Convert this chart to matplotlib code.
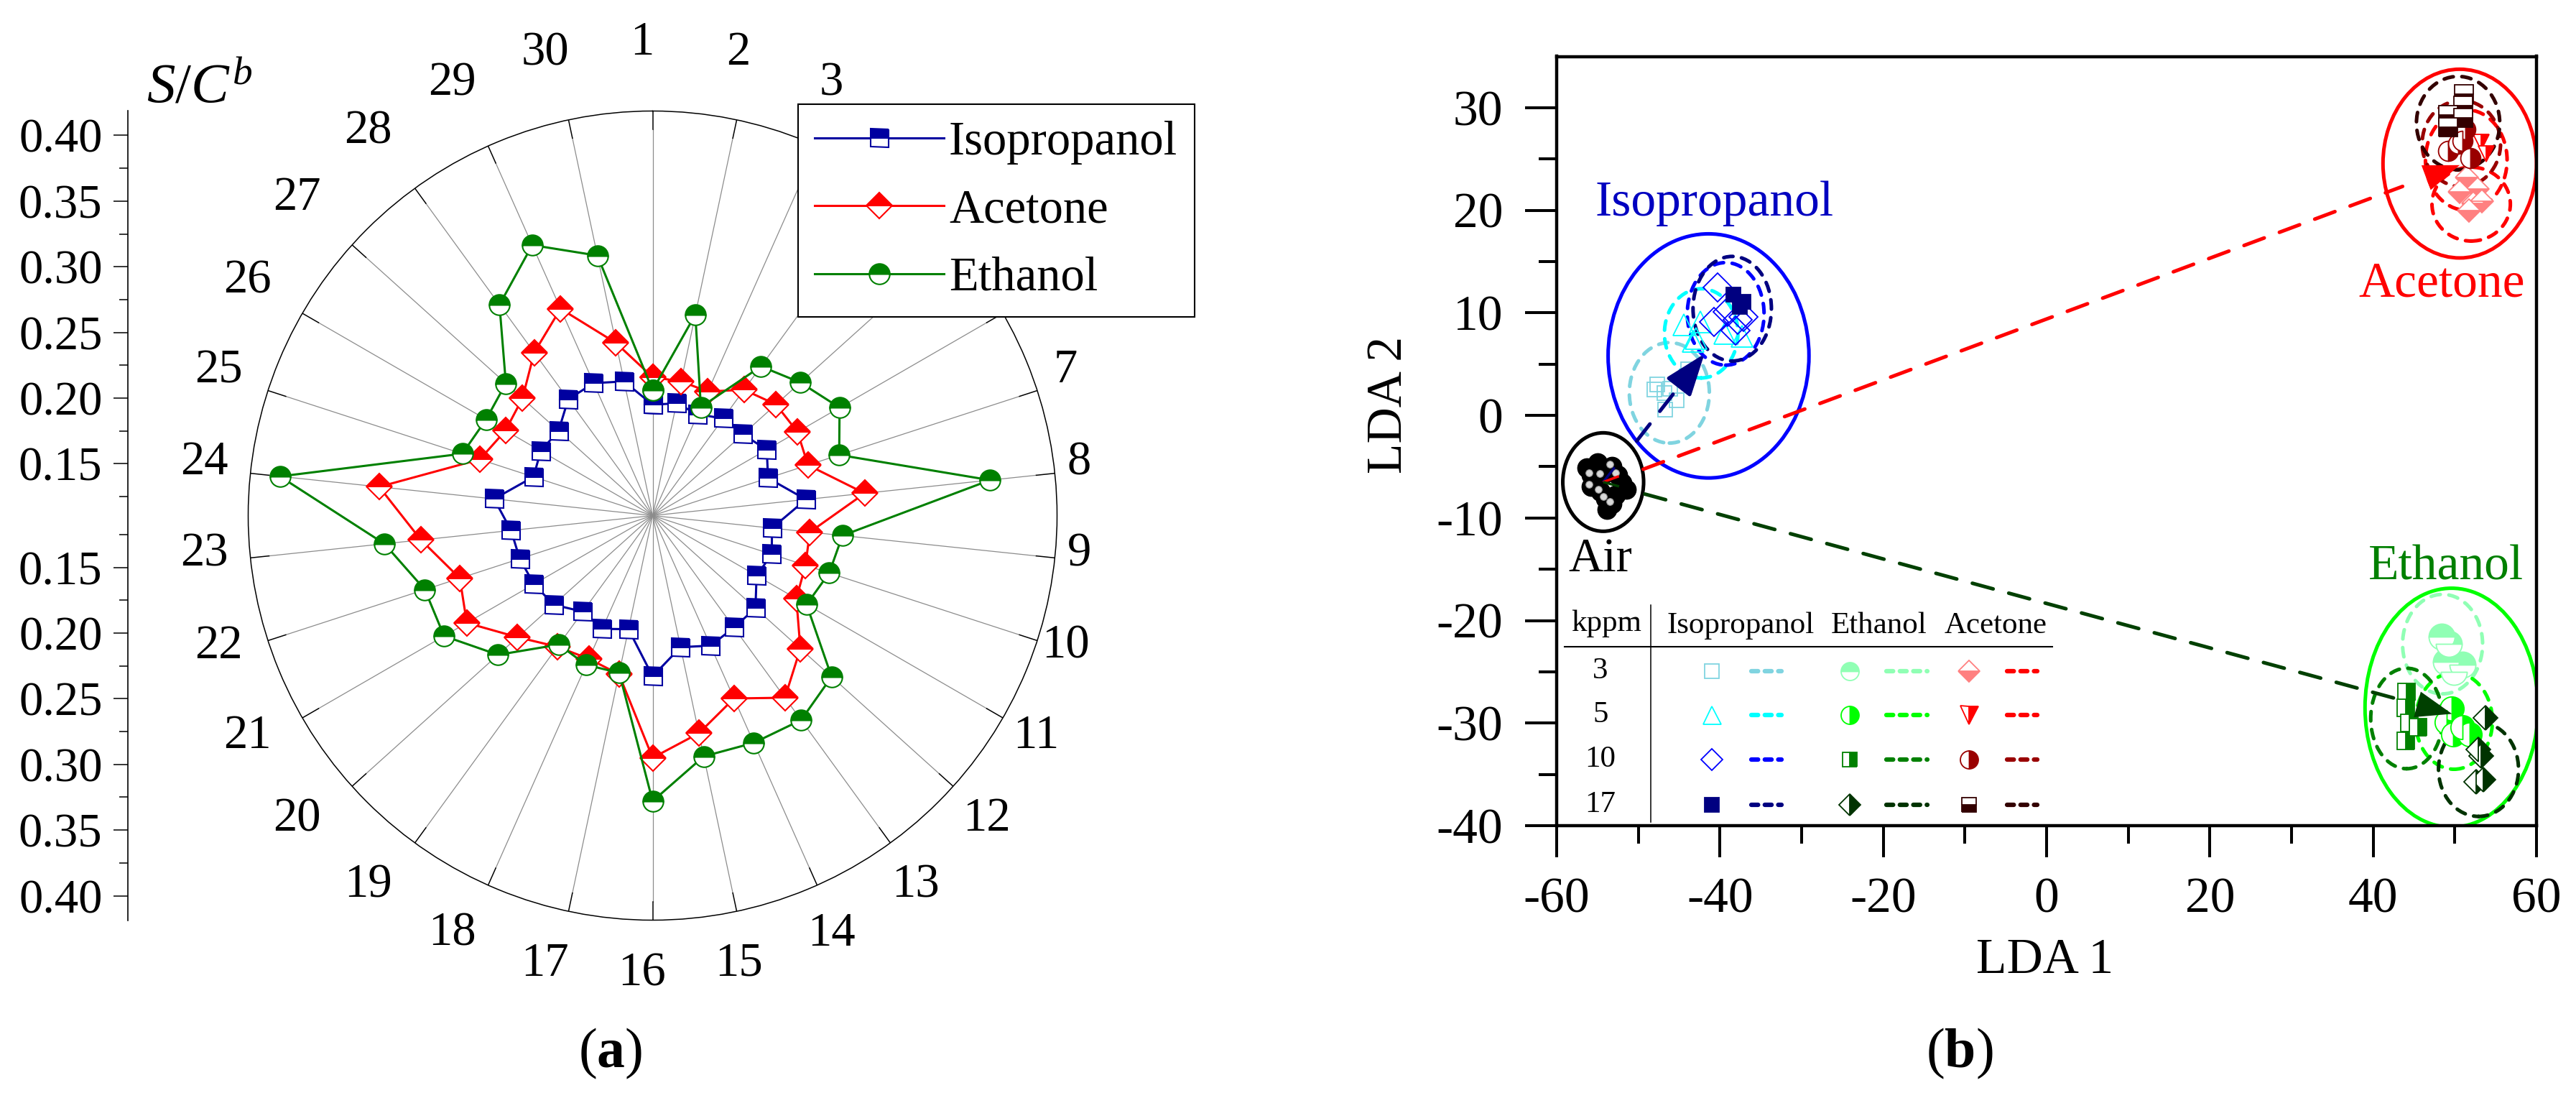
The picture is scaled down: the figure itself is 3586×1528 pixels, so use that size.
import numpy as np
import matplotlib.pyplot as plt
import matplotlib.transforms as mtransforms
from matplotlib.patches import Ellipse

plt.rcParams['font.family'] = ['Liberation Serif', 'DejaVu Serif']
plt.rcParams['mathtext.fontset'] = 'custom'
plt.rcParams['mathtext.rm'] = 'Liberation Serif'
plt.rcParams['mathtext.it'] = 'Liberation Serif:italic'
plt.rcParams['mathtext.bf'] = 'Liberation Serif:bold'
plt.rcParams['axes.unicode_minus'] = False

# ---------------- (a) radar data: S/C^b of the 30 sensors
sensors = np.arange(1, 31)
isopropanol = [0.195, 0.198, 0.195, 0.202, 0.203, 0.211, 0.203, 0.228, 0.202, 0.206,
               0.202, 0.216, 0.216, 0.219, 0.213, 0.233, 0.199, 0.205, 0.201, 0.212,
               0.215, 0.217, 0.219, 0.232, 0.206, 0.209, 0.207, 0.220, 0.221, 0.215]
acetone = [0.216, 0.215, 0.214, 0.229, 0.237, 0.238, 0.235, 0.273, 0.231, 0.233,
           0.237, 0.262, 0.282, 0.263, 0.280, 0.295, 0.234, 0.230, 0.234, 0.249,
           0.274, 0.265, 0.288, 0.320, 0.249, 0.240, 0.244, 0.264, 0.283, 0.245]
ethanol = [0.206, 0.267, 0.201, 0.251, 0.262, 0.275, 0.260, 0.369, 0.256, 0.252,
           0.246, 0.294, 0.303, 0.300, 0.298, 0.328, 0.233, 0.235, 0.232, 0.269,
           0.294, 0.293, 0.316, 0.396, 0.263, 0.257, 0.261, 0.309, 0.336, 0.313]
hidden_labels = [4, 5, 6]          # sit under the legend box in the original
r_ticks = [0.15, 0.20, 0.25, 0.30, 0.35, 0.40]
r_minor = [0.125, 0.175, 0.225, 0.275, 0.325, 0.375]
r_min, r_max = 0.1106, 0.4186

# ---------------- (b) LDA scores
air_x = [-55.8, -54.5, -55.8, -54.6, -52.5, -53.2, -53.2, -54.0, -56.3, -52.0,
         -51.5, -53.8, -55.0, -52.8]
air_y = [-5.8, -5.9, -6.9, -7.4, -5.8, -5.0, -8.6, -8.1, -5.1, -6.6,
         -7.2, -9.2, -4.6, -7.8]

iso3_x = [-48.0, -46.8, -46.1, -45.3, -46.7, -47.7, -43.9]
iso3_y = [2.5, 2.2, 2.6, 1.5, 0.6, 3.0, 4.5]
iso5_x = [-44.4, -42.4, -42.9, -39.4, -37.3, -43.3]
iso5_y = [8.8, 9.1, 7.5, 8.0, 7.7, 7.2]
iso10_x = [-40.3, -39.1, -40.7, -37.8, -38.1, -37.1]
iso10_y = [12.5, 10.1, 9.1, 9.3, 8.3, 9.6]
iso17_x = [-38.4, -37.1, -37.6]
iso17_y = [11.8, 11.1, 10.6]

eth3_x = [48.4, 49.3, 48.9, 50.9, 49.9]
eth3_y = [-21.6, -22.3, -24.0, -24.3, -25.0]
eth5_x = [49.6, 49.0, 49.8, 51.8, 50.9]
eth5_y = [-28.6, -29.9, -31.1, -31.1, -30.4]
eth10_x = [44.1, 44.0, 45.5, 44.0, 44.4]
eth10_y = [-27.0, -28.5, -30.4, -31.7, -30.0]
eth17_x = [53.75, 53.2, 53.5, 52.6, 52.9]
eth17_y = [-29.5, -33.2, -35.5, -35.7, -32.6]

ace3_x = [51.5, 52.8, 50.6, 52.25, 53.3, 51.7]
ace3_y = [23.2, 22.1, 21.8, 20.7, 20.9, 20.0]
ace5_x = [53.2, 53.8]
ace5_y = [26.6, 25.5]
ace10_x = [51.25, 49.2, 50.45, 51.9, 50.9]
ace10_y = [27.9, 25.8, 26.5, 25.1, 26.8]
ace17_x = [51.1, 51.0, 49.2, 49.2, 51.0]
ace17_y = [31.3, 30.2, 29.3, 28.1, 29.0]

# confidence ellipses (cx, cy, semi-x, semi-y)
air_ell = (-54.3, -6.5, 4.95, 4.8)
iso_ell = (-41.4, 5.8, 12.3, 11.9)
ace_ell = (50.6, 24.55, 9.4, 9.2)
eth_ell = (49.6, -28.5, 10.6, 11.65)
iso_sub = [(-46.2, 2.2, 4.9, 4.9), (-42.3, 8.0, 4.5, 4.35), (-39.3, 9.9, 4.7, 5.0), (-38.5, 10.4, 4.8, 5.1)]
eth_sub = [(48.5, -22.3, 4.9, 4.85), (49.9, -29.8, 4.7, 4.7), (44.1, -29.55, 4.4, 4.9), (52.9, -34.5, 4.9, 4.6)]
ace_sub = [(52.0, 20.6, 4.8, 3.6), (51.4, 24.9, 5.0, 4.9), (50.8, 26.5, 4.8, 4.2), (50.4, 28.5, 5.1, 4.55)]

# trajectories from air to each gas (start, end, colour)
arrows = [((-50.2, -2.5), (-41.9, 6.0), '#000080'),
          ((-49.4, -5.25), (50.6, 24.4), '#FF0000'),
          ((-49.2, -7.67), (49.65, -29.1), '#004000')]

kppm = ['3', '5', '10', '17']
ISO = ['#80D4E0', '#00FFFF', '#0000FF', '#000080']
ETH = ['#90FFB4', '#00FF00', '#008000', '#003300']
ACE = ['#FF8080', '#FF0000', '#990000', '#330000']
ACE_DASH = ['#FF0000', '#FF0000', '#990000', '#330000']

W, H = 3586, 1528
fig = plt.figure(figsize=(W / 100, H / 100), dpi=100)


def fx(px):
    return px / W


def fy(py):
    return 1 - py / H


# ======================= (a) radar =======================
cx, cy, rad = 908.5, 717.5, 563
axa = fig.add_axes([fx(cx - rad), fy(cy + rad), 2 * rad / W, 2 * rad / H], projection='polar')
axa.set_theta_zero_location('N')
axa.set_theta_direction(-1)
axa.set_ylim(r_min, r_max)
axa.grid(False)
axa.set_xticks([])
axa.set_yticks([])
axa.spines['polar'].set_linewidth(1.1)

px_per_r = rad / (r_max - r_min)
theta = np.deg2rad((sensors - 1) * 12.0)
tip = 26 / px_per_r
for t in theta:
    axa.plot([t, t], [r_min, r_max - tip], color='#8c8c8c', lw=0.9, zorder=1)
    axa.plot([t, t], [r_max - tip, r_max], color='black', lw=1.1, zorder=1)

# sensor numbers round the rim
lab_tr = mtransforms.offset_copy(axa.transData, fig=fig, x=-15, y=10, units='dots')
for s, t in zip(sensors, theta):
    if s in hidden_labels:
        continue
    c = abs(np.cos(t))
    dist = 612 + 36 * np.clip((c - 0.2) / 0.5, 0, 1)
    axa.text(t, r_min + dist / px_per_r, str(s), transform=lab_tr, ha='center',
             va='center', fontsize=48, clip_on=False)

series = [('Isopropanol', isopropanol, 's', '#0000A0', 18),
          ('Acetone', acetone, 'D', '#FF0000', 18),
          ('Ethanol', ethanol, 'o', '#008000', 20.5)]
handles = []
for name, vals, mk, col, ms in series:
    tt = np.append(theta, theta[0])
    vv = np.append(vals, vals[0])
    h, = axa.plot(tt, vv, color=col, lw=2.2, marker=mk, ms=ms, mfc=col,
                  mfcalt='white', fillstyle='top', mec=col, mew=1.5,
                  label=name, zorder=3, clip_on=False)
    handles.append(h)

# radial ruler on the left
axs = fig.add_axes([fx(178), fy(cy + rad), 1e-4, 2 * rad / H])
span = r_max - r_min
axs.set_ylim(-span, span)
axs.set_yticks([v - r_min for v in r_ticks] + [-(v - r_min) for v in r_ticks],
               [f'{v:.2f}' for v in r_ticks] * 2)
axs.set_yticks([v - r_min for v in r_minor] + [-(v - r_min) for v in r_minor], minor=True)
axs.set_xticks([])
for s in ['top', 'right', 'bottom']:
    axs.spines[s].set_visible(False)
axs.spines['left'].set_linewidth(1.2)
axs.tick_params(axis='y', which='major', length=14.5, width=1.1, pad=11, labelsize=48)
axs.tick_params(axis='y', which='minor', length=8.5, width=1.1)
axs.patch.set_visible(False)
fig.text(fx(204), fy(143), r'$S/C^b$', fontsize=57, ha='left', va='baseline')

leg = fig.legend(handles=handles, loc='upper left', bbox_to_anchor=(fx(1111), fy(145)),
                 fontsize=48, frameon=True, fancybox=False, edgecolor='black',
                 framealpha=1, borderaxespad=0, borderpad=0.35, handlelength=2.7,
                 handletextpad=0.1, labelspacing=0.5)
leg.get_frame().set_linewidth(1.5)

fig.text(fx(850), fy(1466), r'($\mathbf{a}$)', fontsize=56, ha='center', va='center')

# ======================= (b) LDA =======================
axb = fig.add_axes([fx(2167), fy(1149), 1364 / W, (1149 - 78.5) / H])
axb.set_xlim(-60, 60)
axb.set_ylim(-40, 35)
axb.set_xticks(np.arange(-60, 61, 20))
axb.set_xticks(np.arange(-50, 60, 20), minor=True)
axb.set_yticks(np.arange(-40, 31, 10))
axb.set_yticks(np.arange(-35, 30, 10), minor=True)
for sp in axb.spines.values():
    sp.set_linewidth(3.2)
axb.tick_params(which='major', direction='out', length=32, width=2.9, labelsize=50)
axb.tick_params(which='minor', direction='out', length=18, width=2.9)
axb.tick_params(axis='y', which='both', pad=22)
axb.tick_params(axis='x', which='both', pad=20)
fig.text(fx(2847), fy(1337), 'LDA 1', ha='center', va='center', fontsize=50)
fig.text(fx(1934), fy(563), 'LDA 2', ha='center', va='center', fontsize=50, rotation=90)


def ell(e, col, ls='-', lw=3.6, z=2):
    x, y, a, b = e
    axb.add_patch(Ellipse((x, y), 2 * a, 2 * b, fill=False, ec=col, lw=lw, ls=ls,
                          capstyle='round', zorder=z))


dash = (0, (2.6, 2.4))
ell(air_ell, 'black')
ell(iso_ell, '#0000FF')
ell(ace_ell, '#FF0000')
ell(eth_ell, '#00FF00')
for e, c in zip(iso_sub, ISO):
    ell(e, c, dash)
for e, c in zip(eth_sub, ETH):
    ell(e, c, dash)
for e, c in zip(ace_sub, ACE_DASH):
    ell(e, c, dash)


def pts(x, y, mk, col, ms, fs='full', face=None, mew=1.3, z=4):
    axb.plot(x, y, ls='none', marker=mk, ms=ms, mec=col,
             mfc=col if face is None else face, fillstyle=fs, mfcalt='white',
             mew=mew, zorder=z)


pts(iso3_x, iso3_y, 's', ISO[0], 14, face='none')
pts(iso5_x, iso5_y, '^', ISO[1], 21, face='none')
pts(iso10_x, iso10_y, 'D', ISO[2], 20, face='none')
pts(iso17_x, iso17_y, 's', ISO[3], 15)
pts(eth3_x, eth3_y, 'o', ETH[0], 26, fs='top')
pts(eth5_x, eth5_y, 'o', ETH[1], 24, fs='right')
pts(eth10_x, eth10_y, 's', ETH[2], 17, fs='right')
pts(eth17_x, eth17_y, 'D', ETH[3], 17, fs='right')
pts(ace3_x, ace3_y, 'D', ACE[0], 16, fs='bottom')
pts(ace5_x, ace5_y, 'v', ACE[1], 16, fs='right')
pts(ace10_x, ace10_y, 'o', ACE[2], 20, fs='right')
pts(ace17_x, ace17_y, 's', ACE[3], 19, fs='bottom')

# air: shaded black balls
axb.plot(air_x, air_y, ls='none', marker='o', ms=19, color='black', zorder=4)
hl = mtransforms.offset_copy(axb.transData, fig=fig, x=-3, y=3, units='dots')
axb.plot(air_x[:8], air_y[:8], ls='none', marker='o', ms=7, mfc='#d8d8d8', mec='#909090',
         mew=0.8, transform=hl, zorder=5)
for (x0, y0), (x1, y1), col in arrows:
    d = np.array([x1 - x0, y1 - y0])
    axb.plot([air_ell[0], air_ell[0] + 2.0 * d[0] / np.hypot(*d)],
             [air_ell[1], air_ell[1] + 2.0 * d[1] / np.hypot(*d)],
             color=col, lw=2.5, zorder=6, solid_capstyle='butt')

# trajectories with heads
for (x0, y0), (x1, y1), col in arrows:
    k = 0.93 if col != '#000080' else 0.75
    axb.plot([x0, x0 + k * (x1 - x0)], [y0, y0 + k * (y1 - y0)], color=col, lw=3.6,
             ls=(0, (6, 4.5)), dash_capstyle='round', zorder=6)
    back = 0.12 if col != '#000080' else 0.3
    axb.annotate('', xy=(x1, y1), xytext=(x1 - back * (x1 - x0), y1 - back * (y1 - y0)),
                 arrowprops=dict(arrowstyle='-|>,head_length=0.6,head_width=0.22',
                                 color=col, lw=0 if col != '#000080' else 3.6,
                                 mutation_scale=60, shrinkA=0, shrinkB=0),
                 zorder=7)

axb.text(-55.25, 19.5, 'Isopropanol', color='#0000C0', fontsize=50, ha='left', va='baseline')
axb.text(38.2, 11.6, 'Acetone', color='#FF0000', fontsize=50, ha='left', va='baseline')
axb.text(39.4, -16.0, 'Ethanol', color='#008000', fontsize=50, ha='left', va='baseline')
axb.text(-58.6, -15.2, 'Air', color='black', fontsize=48, ha='left', va='baseline')

# concentration key table (axes fraction)
T = axb.transAxes
axb.text(0.0506, 0.253, 'kppm', transform=T, ha='center', va='baseline', fontsize=31)
for xc, name in zip([0.188, 0.3288, 0.4478], ['Isopropanol', 'Ethanol', 'Acetone']):
    axb.text(xc, 0.2499, name, transform=T, ha='center', va='baseline', fontsize=31)
axb.plot([0.008, 0.5059], [0.233, 0.233], transform=T, color='black', lw=1.5)
axb.plot([0.0958, 0.0958], [0.0047, 0.287], transform=T, color='black', lw=1.1)
rows_y = [0.201, 0.1439, 0.0859, 0.0271]
key_iso = [('s', 'none', 'full'), ('^', 'none', 'full'), ('D', 'none', 'full'), ('s', None, 'full')]
key_eth = [('o', None, 'top'), ('o', None, 'right'), ('s', None, 'right'), ('D', None, 'right')]
key_ace = [('D', None, 'bottom'), ('v', None, 'right'), ('o', None, 'right'), ('s', None, 'bottom')]
cols = [(0.1584, ISO, key_iso, ISO, (0.1987, 0.2295)),
        (0.2988, ETH, key_eth, ETH, (0.3363, 0.378)),
        (0.4207, ACE, key_ace, ACE_DASH, (0.4597, 0.4905))]
for i, yr in enumerate(rows_y):
    axb.text(0.0447, yr, kppm[i], transform=T, ha='center', va='center', fontsize=31)
    for xm, mcol, keys, dcol, (d0, d1) in cols:
        mk, face, fs = keys[i]
        size = {'s': 14, '^': 18, 'D': 15, 'o': 18, 'v': 18}[mk]
        axb.plot([xm], [yr], transform=T, ls='none', marker=mk, ms=size, mec=mcol[i],
                 mfc=mcol[i] if face is None else face, fillstyle=fs, mfcalt='white',
                 mew=1.3, zorder=6)
        axb.plot([d0, d1], [yr, yr], transform=T, color=dcol[i], lw=4.5,
                 ls=(0, (1.5, 1.5)), dash_capstyle='round', zorder=6)

fig.text(fx(2728), fy(1466), r'($\mathbf{b}$)', fontsize=56, ha='center', va='center')

fig.savefig('out.png', dpi=100, facecolor='white')
